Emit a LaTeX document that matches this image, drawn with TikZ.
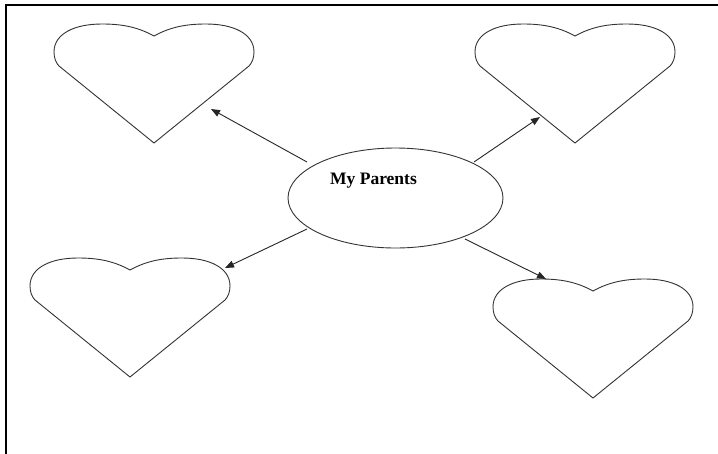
\documentclass[tikz,border=0pt]{standalone}
\usepackage{fontspec}
\setmainfont{Liberation Serif}
\usetikzlibrary{arrows.meta,shapes.geometric}
\tikzset{
  heartline/.style={draw=black!80, line width=0.9pt, fill=white},
  arr/.style={draw=black!85, line width=0.9pt, -{Triangle[length=9pt,width=7pt]}},
  pics/heart/.style={code={
    \path[heartline] (0,12) .. controls (-18,2) and (-35,0) .. (-52,0)
      .. controls (-80,0) and (-100,10) .. (-100,28)
      .. controls (-100,34) and (-98,39) .. (-95,42)
      -- (0,119) -- (95,42)
      .. controls (98,39) and (100,34) .. (100,28)
      .. controls (100,10) and (80,0) .. (52,0)
      .. controls (35,0) and (18,2) .. (0,12) -- cycle;
  }}
}
\begin{document}
\begin{tikzpicture}[x=1pt,y=-1pt]
\useasboundingbox (0,0) rectangle (718,453);
\fill[white] (0,0) rectangle (718,453);
% border
\draw[line width=2pt] (6,460) -- (6,5) -- (725,5);
% hearts
\pic at (154,24) {heart};
\pic at (575,24) {heart};
\pic at (130,258) {heart};
\pic at (593,279) {heart};
% centre ellipse
\node[ellipse, draw=black!80, line width=0.9pt, minimum width=215pt, minimum height=100pt, inner sep=0pt] (parents) at (395.5,198) {};
\node[font=\bfseries\fontsize{17.5}{20}\selectfont, anchor=base] (label) at (373.5,184) {My Parents};
% arrow endpoints
\coordinate (s1) at (307,162);
\coordinate (t1) at (211,109);
\coordinate (s2) at (474,162);
\coordinate (t2) at (540,117);
\coordinate (s3) at (307,229);
\coordinate (t3) at (225,268);
\coordinate (s4) at (465,239);
\coordinate (t4) at (546,279);
\draw[arr] (s1) -- (t1);
\draw[arr] (s2) -- (t2);
\draw[arr] (s3) -- (t3);
\draw[arr] (s4) -- (t4);
\end{tikzpicture}
\end{document}
